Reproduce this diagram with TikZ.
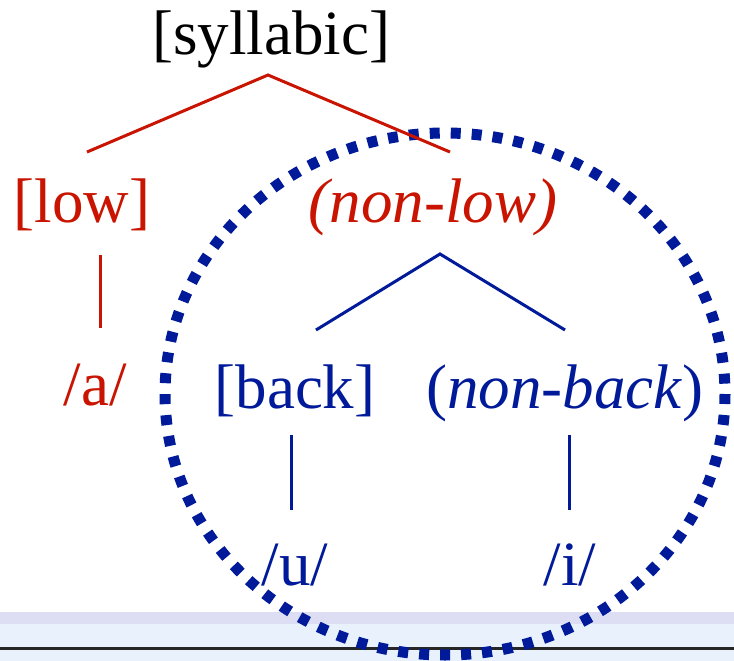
\documentclass[tikz,border=0pt]{standalone}
\usepackage{fontspec}
\setmainfont{Liberation Serif}
\usetikzlibrary{positioning}
\definecolor{fred}{RGB}{200,20,0}
\definecolor{fblue}{RGB}{0,26,153}
\definecolor{bandlav}{RGB}{221,221,244}
\definecolor{bandsky}{RGB}{232,241,252}

\begin{document}
\begin{tikzpicture}[x=1pt, y=-1pt,
  feat/.style={anchor=base, inner sep=0pt, font=\fontsize{63}{70}\selectfont},
  redbranch/.style={fred, line width=3pt},
  bluebranch/.style={fblue, line width=3pt}]
\useasboundingbox (0,0) rectangle (734,661);

% slide background strip at the bottom
\fill[bandlav] (0,612) rectangle (734,624);
\fill[bandsky] (0,624) rectangle (734,661);
\draw[black!85, line width=3pt] (0,648.5) -- (734,648.5);

% dotted ellipse round the non-low part
\draw[fblue, line width=11pt, dash pattern=on 10pt off 11pt]
  (445,394) ellipse [x radius=280, y radius=261];

% feature labels
\node[feat] (syl) at (271,55) {[syllabic]};
\node[feat, fred] (low) at (82,222) {[low]};
\node[feat, fred] (nlow) at (433,222) {\itshape (non-low)};
\node[feat, fred] (a) at (95,405) {/a/};
\node[feat, fblue] (back) at (295,408) {[back]};
\node[feat, fblue] (nback) at (565,408) {(\textit{non-back})};
\node[feat, fblue] (u) at (295,585) {/u/};
\node[feat, fblue] (i) at (570,585) {/i/};

% branch points
\coordinate (sylfoot) at (268,75);
\coordinate (lowtop) at (87,152);
\coordinate (nlowtop) at (450,152);
\coordinate (lowfoot) at (100,255);
\coordinate (atop) at (100,328);
\coordinate (nlowfoot) at (440,254);
\coordinate (backtop) at (316,330);
\coordinate (nbacktop) at (565,330);
\coordinate (backfoot) at (291,435);
\coordinate (utop) at (291,510);
\coordinate (nbackfoot) at (569,435);
\coordinate (itop) at (569,510);

% red tree
\draw[redbranch] (lowtop) -- (sylfoot) -- (nlowtop);
\draw[redbranch] (lowfoot) -- (atop);

% blue tree
\draw[bluebranch] (backtop) -- (nlowfoot) -- (nbacktop);
\draw[bluebranch] (backfoot) -- (utop);
\draw[bluebranch] (nbackfoot) -- (itop);
\end{tikzpicture}
\end{document}
